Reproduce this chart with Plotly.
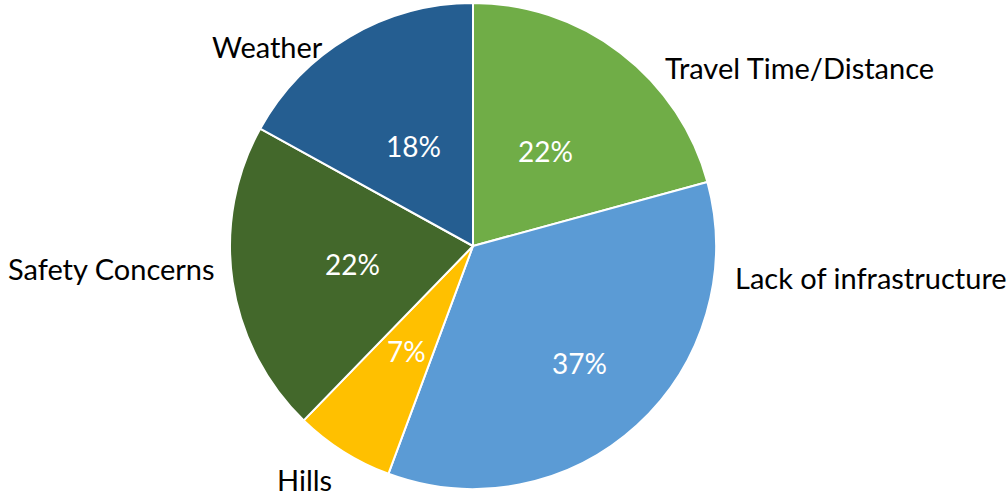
import math
import plotly.graph_objects as go

labels = ["Travel Time/Distance", "Lack of infrastructure", "Hills", "Safety Concerns", "Weather"]
values = [22, 37, 7, 22, 18]
colors = ["#70AD47", "#5B9BD5", "#FFC000", "#43682B", "#255E91"]

W, H = 1008, 498
cx, cy, r = 473, 246, 243
FONT = "Lato, Calibri, sans-serif"
FS = 29

fig = go.Figure(go.Pie(
    labels=labels,
    values=values,
    sort=False,
    direction="clockwise",
    rotation=0,
    marker=dict(colors=colors, line=dict(color="white", width=2)),
    textinfo="none",
    hoverinfo="label+value",
    showlegend=False,
    domain=dict(x=[(cx - r) / W, (cx + r) / W], y=[1 - (cy + r) / H, 1 - (cy - r) / H]),
))

# percentage labels placed along each slice's mid-angle
label_radius = [0.49, 0.65, 0.51, 0.50, 0.48]
total = sum(values)
cum = 0
for v, rf in zip(values, label_radius):
    mid = (cum + v / 2) / total * 2 * math.pi
    cum += v
    px = cx + rf * r * math.sin(mid)
    py = cy - rf * r * math.cos(mid)
    fig.add_annotation(
        x=px / W, y=1 - py / H, xref="paper", yref="paper",
        text=f"{v}%", showarrow=False, xanchor="center", yanchor="middle",
        font=dict(family=FONT, size=28, color="white"),
    )

# category label annotations (x in px, y in px, anchor)
label_pos = [
    (663, 67, "left", "middle"),
    (733, 277, "left", "middle"),
    (275, 499, "left", "bottom"),
    (217, 268, "right", "middle"),
    (325, 47, "right", "middle"),
]
for lab, (x, y, xa, ya) in zip(labels, label_pos):
    fig.add_annotation(
        x=x / W, y=1 - y / H, xref="paper", yref="paper",
        text=lab, showarrow=False, xanchor=xa, yanchor=ya,
        font=dict(family=FONT, size=FS, color="#000000"),
    )

fig.update_layout(
    width=W, height=H,
    margin=dict(l=0, r=0, t=0, b=0),
    paper_bgcolor="white",
    plot_bgcolor="white",
)
fig.write_html("out.html")
